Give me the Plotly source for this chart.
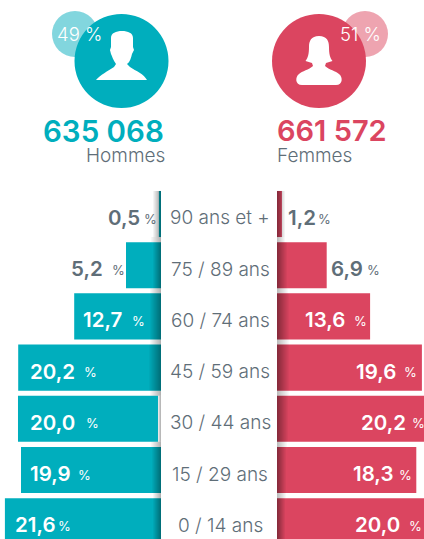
import plotly.graph_objects as go

W, H = 424, 539

# ---------- data ----------
age_groups = ["90 ans et +", "75 / 89 ans", "60 / 74 ans", "45 / 59 ans", "30 / 44 ans", "15 / 29 ans", "0 / 14 ans"]
men_labels = ["0,5", "5,2", "12,7", "20,2", "20,0", "19,9", "21,6"]
women_labels = ["1,2", "6,9", "13,6", "19,6", "20,2", "18,3", "20,0"]
# bar lengths as drawn in the picture (the source is not strictly proportional)
men_drawn = [0.3, 5.0, 12.4, 20.4, 20.0, 20.0, 22.3]
men_offset = [0, 0, 0, 0, 0.43, 0, 0]
women_drawn = [0.7, 7.1, 13.3, 20.7, 21.2, 19.9, 21.2]
men_total, women_total = "635 068", "661 572"
men_share, women_share = "49 %", "51 %"

# ---------- styles ----------
TEAL, PINK = "#00AEBD", "#DB4560"
TEAL_L, PINK_L = "#82D6DE", "#EEA4B0"
GREY = "#5F6E78"
FONT = "Inter"
UNIT = 7.0  # px per percentage point
BASE_L, BASE_R = 161, 277
TOP, PITCH = 214, 51.2

px = lambda v: v / W
py = lambda v: 1 - v / H

fig = go.Figure()
fig.add_bar(y=age_groups, x=men_drawn, base=men_offset, orientation="h",
            marker=dict(color=TEAL, line_width=0), xaxis="x", yaxis="y", showlegend=False)
fig.add_bar(y=age_groups, x=women_drawn, orientation="h",
            marker=dict(color=PINK, line_width=0), xaxis="x2", yaxis="y", showlegend=False)

shapes = []
def circle(cx, cy, r, color):
    shapes.append(dict(type="circle", xref="paper", yref="paper", x0=px(cx - r), x1=px(cx + r),
                       y0=py(cy + r), y1=py(cy - r), fillcolor=color, line_width=0, layer="above"))

def band(base, direction, width, y0, y1, peak, start=0):
    n = int(width)
    for k in range(start, n):
        a = peak * (1 - k / n)
        xa, xb = base + direction * k, base + direction * (k + 1)
        shapes.append(dict(type="rect", xref="paper", yref="paper", x0=px(min(xa, xb)), x1=px(max(xa, xb)),
                           y0=py(y1), y1=py(y0), fillcolor=f"rgba(0,0,0,{a:.3f})", line_width=0, layer="above"))

left_w = [8, 8, 11, 12, 0, 9, 8]
left_gap = [10, 11, 11, 11, 10, 8]
right_w = [8, 10, 12, 12, 11, 9, 8]
right_gap = [8, 11, 12, 12, 10, 9]
for i in range(7):
    y0, y1 = TOP + PITCH * i - 23, TOP + PITCH * i + 23
    if left_w[i]:
        band(BASE_L, -1, left_w[i], y0, y1, 0.36)
    else:
        band(BASE_L, -1, 3, y0, y1, 0.28)
    band(BASE_R, 1, right_w[i], y0, y1, 0.38)
    if i < 6:
        band(BASE_L, -1, left_gap[i], y1, y1 + 5.2, 0.30)
        band(BASE_R, 1, right_gap[i], y1, y1 + 5.2, 0.26)

circle(75, 34, 23, TEAL_L)
circle(365, 34, 23, PINK_L)
circle(121.5, 61, 47, TEAL)
circle(319, 61, 47, PINK)

def path(cmds):
    out = []
    for c in cmds:
        if isinstance(c, str):
            out.append(c)
        else:
            out.append(f"{px(c[0]):.5f},{py(c[1]):.5f}")
    return " ".join(out)

man = ["M", (96, 80), "C", (100, 75), (108, 71), (114, 67), "L", (116, 64), "C", (113, 60), (112, 56), (111, 54),
       "L", (110, 50), "L", (111, 47), "L", (111, 38), "C", (111, 33), (116, 31), (122, 31),
       "C", (128, 31), (133, 33), (133, 38), "L", (133, 47), "L", (134, 50), "L", (132, 54),
       "C", (131, 58), (130, 62), (127, 64), "L", (130, 67), "C", (136, 71), (144, 74), (147, 80), "Z"]
woman = ["M", (319, 36), "C", (311, 36), (309, 41), (309, 47), "C", (309, 54), (308, 58), (305.5, 61),
         "L", (312, 63), "L", (313, 66), "C", (309, 70), (302, 71), (299, 74), "C", (295, 77), (295, 85), (302, 85),
         "L", (336, 85), "C", (343, 85), (343, 77), (339, 74), "C", (336, 71), (329, 70), (325, 66),
         "L", (326, 63), "L", (332.5, 61), "C", (330, 58), (329, 54), (329, 47), "C", (329, 41), (327, 36), (319, 36), "Z"]
for p in (man, woman):
    shapes.append(dict(type="path", xref="paper", yref="paper", path=path(p), fillcolor="white",
                       line_width=0, layer="above"))

ann = []
def text(s, x, y, size, color, anchor="center", weight=400):
    ann.append(dict(text=s, x=px(x), y=py(y), xref="paper", yref="paper", xanchor=anchor, yanchor="middle",
                    showarrow=False, borderpad=0, font=dict(family=FONT, size=size, color=color, weight=weight)))

text(men_share, 79, 34, 18.5, "white", weight=300)
text(women_share, 360.5, 34, 18.5, "white", weight=300)
text(men_total, 103.5, 130.5, 29.5, TEAL, weight=600)
text(women_total, 331.5, 130.5, 29, PINK, weight=600)
text("Hommes", 85, 155, 19, GREY, "left", 300)
text("Femmes", 276, 155, 19, GREY, "left", 300)

# label placement: (number left edge, number right edge, percent left edge)
men_pos = [(107, 138, 143), (70, 100, 111), (82, 120, 131), (29, 73, 83), (29, 75, 85), (29, 68, 77), (14, 52, 57)]
women_pos = [(287, 313, 317), (330, 362, 366), (304, 343, 353), (355, 395, 403), (360, 404, 411), (352, 390, 398), (354, 400, 408)]
for i in range(7):
    yc = TOP + PITCH * i + 3.5
    text(age_groups[i], 220.5, yc + 0.5, 19, GREY, weight=300)
    mc = GREY if i < 2 else "white"
    wc = GREY if i < 2 else "white"
    text(men_labels[i], men_pos[i][0], yc, 20.5, mc, "left", 600)
    text("%", men_pos[i][2], yc + 1, 13, mc, "left", 400)
    text(women_labels[i], women_pos[i][0], yc, 20.5, wc, "left", 600)
    text("%", women_pos[i][2], yc + 1, 13, wc, "left", 400)

fig.update_layout(
    width=W, height=H, margin=dict(l=0, r=0, t=0, b=0), paper_bgcolor="white", plot_bgcolor="white",
    bargap=0.1, barmode="overlay", shapes=shapes, annotations=ann, showlegend=False,
    xaxis=dict(domain=[0, BASE_L / W], range=[BASE_L / UNIT, 0], visible=False, anchor="y", fixedrange=True),
    xaxis2=dict(domain=[BASE_R / W, 1], range=[0, (W - BASE_R) / UNIT], visible=False, anchor="y", fixedrange=True),
    yaxis=dict(domain=[0, 1 - 180 / H], type="category", categoryorder="array", categoryarray=age_groups,
               range=[(539 - TOP) / PITCH, (180 - TOP) / PITCH], visible=False, fixedrange=True),
)
fig.write_html("out.html", config=dict(displayModeBar=False),
               post_script="document.body.style.margin='0';document.documentElement.style.overflow='hidden';")
